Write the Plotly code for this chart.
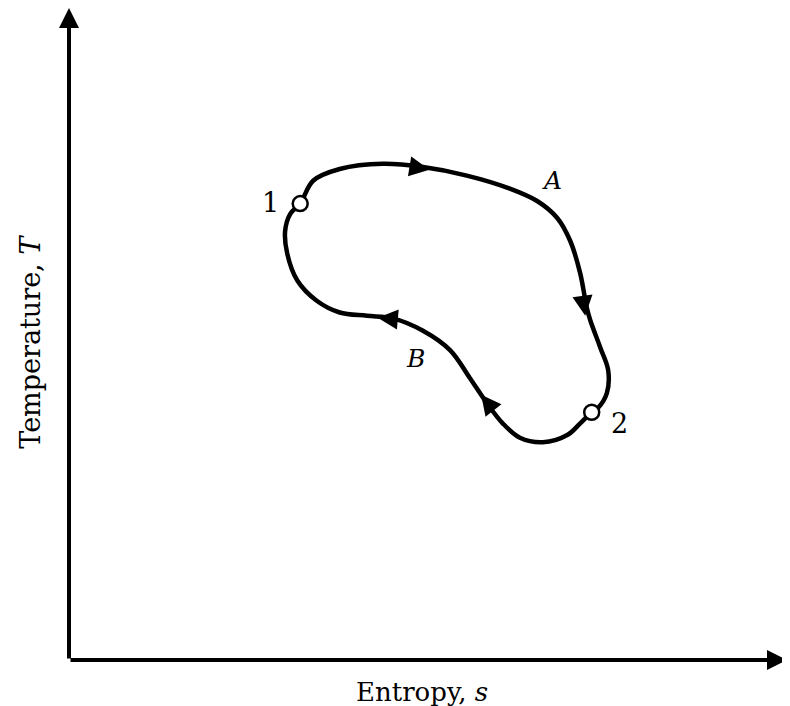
import plotly.graph_objects as go

# Process A: from state 1 to state 2 (upper path), entropy s and temperature T (arbitrary units)
s_A = [3.22, 3.40, 3.77, 4.37, 4.93, 5.54, 6.14, 6.52, 6.80, 6.98, 7.12, 7.21, 7.26, 7.40, 7.51, 7.49, 7.37, 7.28]
T_A = [7.00, 7.35, 7.53, 7.61, 7.56, 7.43, 7.23, 7.04, 6.78, 6.43, 5.93, 5.41, 5.21, 4.79, 4.44, 4.09, 3.87, 3.80]
# Process B: from state 2 back to state 1 (lower path)
s_B = [7.28, 7.12, 6.94, 6.60, 6.28, 6.04, 5.82, 5.58, 5.31, 4.93, 4.51, 4.15, 3.77, 3.45, 3.18, 3.04, 3.01, 3.08, 3.22]
T_B = [3.80, 3.63, 3.45, 3.34, 3.41, 3.63, 3.94, 4.33, 4.75, 5.05, 5.24, 5.28, 5.33, 5.51, 5.82, 6.23, 6.58, 6.84, 7.00]

# States
state_labels = ["1", "2"]
state_s = [3.22, 7.28]
state_T = [7.00, 3.80]

# Direction arrows along the cycle: (head s, head T, tail s, tail T)
arrow_head_s = [5.02, 7.19, 5.74, 4.30]
arrow_head_T = [7.52, 5.28, 4.07, 5.25]
arrow_tail_s = [4.80, 7.16, 5.86, 4.50]
arrow_tail_T = [7.56, 5.52, 3.90, 5.23]

# Process labels
proc_labels = ["A", "B"]
proc_s = [6.73, 4.83]
proc_T = [7.35, 4.63]

s_max = 10.0
T_max = 10.0

fig = go.Figure()

fig.add_trace(go.Scatter(
    x=s_A + s_B[1:], y=T_A + T_B[1:], mode="lines",
    line=dict(color="black", width=4.5, shape="spline", smoothing=1.0),
    hoverinfo="skip", showlegend=False,
))

fig.add_trace(go.Scatter(
    x=state_s, y=state_T, mode="markers",
    marker=dict(size=15, color="white", line=dict(color="black", width=2.5)),
    hoverinfo="skip", showlegend=False,
))

serif = "DejaVu Serif"

# Direction arrows
for hs, hT, ts, tT in zip(arrow_head_s, arrow_head_T, arrow_tail_s, arrow_tail_T):
    fig.add_annotation(
        x=hs, y=hT, ax=ts, ay=tT, xref="x", yref="y", axref="x", ayref="y",
        text="", showarrow=True, arrowhead=2, arrowsize=1.15, arrowwidth=3.5,
        arrowcolor="black", standoff=0, startstandoff=0,
    )

# Axes with arrowheads
fig.add_annotation(x=s_max, y=0, ax=0, ay=0, xref="x", yref="y", axref="x", ayref="y",
                   text="", showarrow=True, arrowhead=2, arrowsize=1.0, arrowwidth=4,
                   arrowcolor="black", standoff=0, startstandoff=0)
fig.add_annotation(x=0, y=T_max, ax=0, ay=0, xref="x", yref="y", axref="x", ayref="y",
                   text="", showarrow=True, arrowhead=2, arrowsize=1.0, arrowwidth=4,
                   arrowcolor="black", standoff=0, startstandoff=0)

# State labels
fig.add_annotation(x=state_s[0], y=state_T[0], text=state_labels[0], showarrow=False,
                   xanchor="center", yanchor="middle", xshift=-30, yshift=1,
                   font=dict(family=serif, size=27, color="black"))
fig.add_annotation(x=state_s[1], y=state_T[1], text=state_labels[1], showarrow=False,
                   xanchor="center", yanchor="middle", xshift=28, yshift=-11,
                   font=dict(family=serif, size=27, color="black"))

# Process labels
for lab, ps, pT in zip(proc_labels, proc_s, proc_T):
    fig.add_annotation(x=ps, y=pT, text="<i>" + lab + "</i>", showarrow=False,
                       xanchor="center", yanchor="middle",
                       font=dict(family=serif, size=25, color="black"))

# Axis titles
fig.add_annotation(x=0.492, y=-0.023, xref="paper", yref="paper",
                   text="Entropy, <i>s</i>", showarrow=False,
                   xanchor="center", yanchor="top",
                   font=dict(family=serif, size=26, color="black"))
fig.add_annotation(x=-0.053, y=0.488, xref="paper", yref="paper",
                   text="Temperature, <i>T</i>", showarrow=False, textangle=-90,
                   xanchor="center", yanchor="middle",
                   font=dict(family=serif, size=27, color="black"))

fig.update_xaxes(range=[0, s_max], visible=False, fixedrange=True)
fig.update_yaxes(range=[0, T_max], visible=False, fixedrange=True)
fig.update_layout(
    width=782, height=698,
    margin=dict(l=61, r=3, t=0, b=46),
    paper_bgcolor="white", plot_bgcolor="white",
    showlegend=False,
)

fig.write_html("out.html")
